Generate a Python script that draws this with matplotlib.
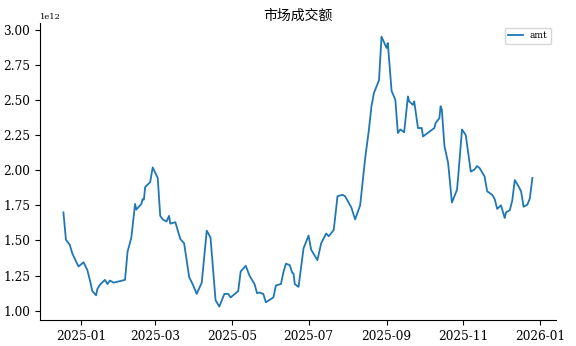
import pandas as pd
import matplotlib
matplotlib.use("Agg")
import matplotlib.pyplot as plt

plt.rcParams['font.family'] = ['DejaVu Serif', 'Noto Sans CJK SC']
plt.rcParams['axes.unicode_minus'] = False

# trading dates and turnover (in 1e12)
dates = [
    "2024-12-18", "2024-12-20", "2024-12-23", "2024-12-25", "2024-12-27", "2024-12-30",
    "2025-01-03", "2025-01-06", "2025-01-08", "2025-01-10", "2025-01-13", "2025-01-14",
    "2025-01-16", "2025-01-20", "2025-01-22", "2025-01-24", "2025-01-27", "2025-02-05",
    "2025-02-07", "2025-02-10", "2025-02-13", "2025-02-14", "2025-02-18", "2025-02-19",
    "2025-02-20", "2025-02-21", "2025-02-25", "2025-02-27", "2025-03-03", "2025-03-05",
    "2025-03-07", "2025-03-10", "2025-03-12", "2025-03-13", "2025-03-17", "2025-03-21",
    "2025-03-24", "2025-03-28", "2025-03-31", "2025-04-03", "2025-04-07", "2025-04-11",
    "2025-04-14", "2025-04-18", "2025-04-21", "2025-04-25", "2025-04-28", "2025-04-30",
    "2025-05-06", "2025-05-08", "2025-05-12", "2025-05-15", "2025-05-19", "2025-05-21",
    "2025-05-23", "2025-05-26", "2025-05-28", "2025-06-03", "2025-06-05", "2025-06-09",
    "2025-06-11", "2025-06-13", "2025-06-16", "2025-06-18", "2025-06-19", "2025-06-20",
    "2025-06-23", "2025-06-27", "2025-07-01", "2025-07-03", "2025-07-08", "2025-07-11",
    "2025-07-15", "2025-07-17", "2025-07-21", "2025-07-24", "2025-07-28", "2025-07-30",
    "2025-08-04", "2025-08-07", "2025-08-11", "2025-08-15", "2025-08-18", "2025-08-20",
    "2025-08-22", "2025-08-26", "2025-08-28", "2025-09-01", "2025-09-02", "2025-09-05",
    "2025-09-08", "2025-09-10", "2025-09-12", "2025-09-15", "2025-09-18", "2025-09-19",
    "2025-09-22", "2025-09-23", "2025-09-26", "2025-09-29", "2025-09-30", "2025-10-09",
    "2025-10-10", "2025-10-13", "2025-10-14", "2025-10-15", "2025-10-17", "2025-10-20",
    "2025-10-23", "2025-10-27", "2025-10-28", "2025-10-31", "2025-11-03", "2025-11-07",
    "2025-11-10", "2025-11-12", "2025-11-14", "2025-11-18", "2025-11-20", "2025-11-24",
    "2025-11-26", "2025-11-28", "2025-12-01", "2025-12-04", "2025-12-05", "2025-12-08",
    "2025-12-10", "2025-12-12", "2025-12-15", "2025-12-17", "2025-12-19", "2025-12-22",
    "2025-12-24", "2025-12-26",
]
amt = [
    1.70, 1.505, 1.47, 1.41, 1.37, 1.315,
    1.345, 1.29, 1.22, 1.14, 1.11, 1.155,
    1.185, 1.22, 1.19, 1.215, 1.20, 1.22,
    1.42, 1.52, 1.76, 1.72, 1.76, 1.795,
    1.79, 1.88, 1.915, 2.02, 1.945, 1.675,
    1.65, 1.635, 1.675, 1.62, 1.63, 1.51,
    1.48, 1.24, 1.185, 1.12, 1.20, 1.57,
    1.52, 1.075, 1.03, 1.12, 1.12, 1.095,
    1.14, 1.28, 1.32, 1.25, 1.19, 1.125,
    1.13, 1.12, 1.06, 1.095, 1.18, 1.19,
    1.275, 1.335, 1.325, 1.27, 1.265, 1.19,
    1.17, 1.445, 1.535, 1.435, 1.36, 1.48,
    1.55, 1.53, 1.575, 1.815, 1.825, 1.815,
    1.735, 1.65, 1.75, 2.085, 2.29, 2.455,
    2.55, 2.64, 2.95, 2.87, 2.905, 2.565,
    2.50, 2.265, 2.29, 2.27, 2.525, 2.49,
    2.465, 2.49, 2.30, 2.30, 2.24, 2.30,
    2.335, 2.37, 2.455, 2.43, 2.175, 2.05,
    1.77, 1.86, 1.955, 2.29, 2.25, 1.99,
    2.005, 2.03, 2.015, 1.955, 1.85, 1.825,
    1.795, 1.725, 1.75, 1.66, 1.70, 1.715,
    1.785, 1.93, 1.885, 1.85, 1.74, 1.755,
    1.80, 1.945,
]

df = pd.DataFrame({"amt": [v * 1e12 for v in amt]}, index=pd.to_datetime(dates))

fig, ax = plt.subplots(figsize=(5.76, 3.46), dpi=100)
fig.subplots_adjust(left=0.0694, right=0.965, bottom=0.075, top=0.933)

ax.plot(df.index, df["amt"], color="#1f77b4", linewidth=1.3, label="amt")

ax.set_title("市场成交额", fontsize=10, pad=2,
             family=['Noto Sans CJK SC', 'DejaVu Serif'])
ax.tick_params(labelsize=8.7)
ax.yaxis.get_offset_text().set_fontsize(6)
ax.legend(loc="upper right", fontsize=6.5, handlelength=1.6)

ax.spines["top"].set_visible(False)
ax.spines["right"].set_visible(False)

fig.savefig("out.png", dpi=100)
